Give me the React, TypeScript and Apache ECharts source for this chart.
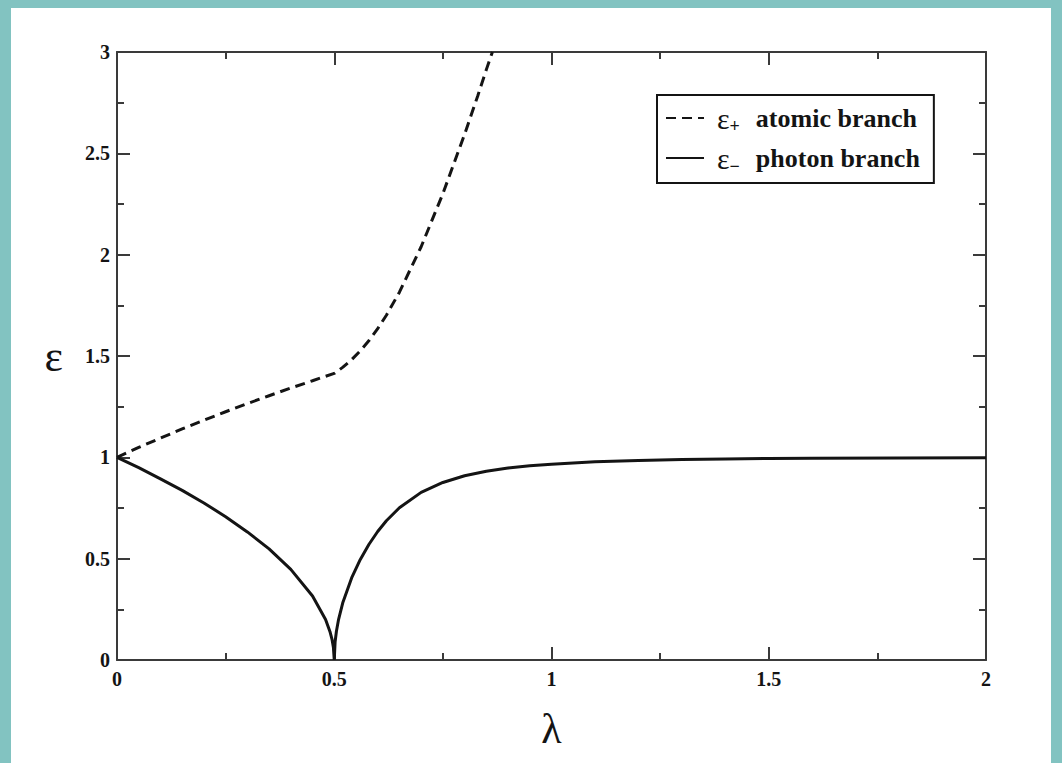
import React, { useEffect, useRef } from "react";
import * as echarts from "echarts";

// Coupling strength λ and the two excitation energies ε± (dimensionless)
const lambdaPlus = [
  0, 0.05, 0.1, 0.15, 0.2, 0.25, 0.3, 0.35, 0.4, 0.45, 0.48, 0.5,
  0.51, 0.52, 0.54, 0.56, 0.58, 0.6, 0.62, 0.65, 0.7, 0.75, 0.8, 0.83, 0.85, 0.864,
];
const epsPlus = [
  1.0, 1.049, 1.095, 1.14, 1.183, 1.225, 1.265, 1.304, 1.342, 1.378, 1.4, 1.414,
  1.429, 1.445, 1.482, 1.526, 1.576, 1.635, 1.701, 1.815, 2.039, 2.301, 2.594, 2.782, 2.913, 3.0,
];

const lambdaMinus = [
  0, 0.05, 0.1, 0.15, 0.2, 0.25, 0.3, 0.35, 0.4, 0.45, 0.48, 0.49, 0.495, 0.498, 0.5,
  0.502, 0.505, 0.51, 0.52, 0.54, 0.56, 0.58, 0.6, 0.62, 0.65, 0.7, 0.75, 0.8, 0.85,
  0.9, 0.95, 1.0, 1.1, 1.2, 1.3, 1.4, 1.5, 1.6, 1.8, 2.0,
];
const epsMinus = [
  1.0, 0.949, 0.894, 0.837, 0.775, 0.707, 0.632, 0.548, 0.447, 0.316, 0.2, 0.141, 0.1, 0.063, 0,
  0.09, 0.142, 0.201, 0.285, 0.405, 0.496, 0.571, 0.634, 0.687, 0.751, 0.827, 0.876, 0.909, 0.931,
  0.947, 0.958, 0.966, 0.978, 0.984, 0.989, 0.992, 0.994, 0.995, 0.997, 0.998,
];

const xTicks = { min: 0, max: 2, interval: 0.5 };
const yTicks = { min: 0, max: 3, interval: 0.5 };

const seriesNames = ["atomic", "photon"];
const legendLabels: Record<string, string> = {
  atomic: "{e|ε}{sub|+}{t|atomic branch}",
  photon: "{e|ε}{sub|−}{t|photon branch}",
};

const INK = "#141414";
const FONT = "'Liberation Serif', 'Times New Roman', serif";

function pairs(xs: number[], ys: number[]) {
  return xs.map((x, i) => [x, ys[i]]);
}

export default function App() {
  const ref = useRef<HTMLDivElement>(null);

  useEffect(() => {
    if (!ref.current) return;
    const chart = echarts.init(ref.current, undefined, { renderer: "svg" });

    const axisCommon = {
      axisLine: { show: true, onZero: false, lineStyle: { color: "#3a3a3a", width: 2 } },
      axisTick: { show: true, inside: true, length: 13, lineStyle: { color: "#3a3a3a", width: 2 } },
      minorTick: { show: true, splitNumber: 2, length: 7, lineStyle: { color: "#3a3a3a", width: 2 } },
      splitLine: { show: false },
    };
    const labelStyle = { color: INK, fontFamily: FONT, fontSize: 20, fontWeight: "bold" as const };

    chart.setOption({
      animation: false,
      backgroundColor: "transparent",
      grid: { left: 117, top: 52, right: 76, bottom: 103, containLabel: false },
      xAxis: [
        {
          type: "value",
          ...xTicks,
          position: "bottom",
          name: "λ",
          nameLocation: "middle",
          nameGap: 48,
          nameTextStyle: { color: INK, fontFamily: FONT, fontSize: 42 },
          axisLabel: { ...labelStyle, margin: 9 },
          ...axisCommon,
        },
        {
          type: "value",
          ...xTicks,
          position: "top",
          axisLabel: { show: false },
          ...axisCommon,
        },
      ],
      yAxis: [
        {
          type: "value",
          ...yTicks,
          position: "left",
          name: "ε",
          nameLocation: "middle",
          nameRotate: 0,
          nameGap: 54,
          nameTextStyle: { color: INK, fontFamily: FONT, fontSize: 44 },
          axisLabel: { ...labelStyle, margin: 7 },
          ...axisCommon,
        },
        {
          type: "value",
          ...yTicks,
          position: "right",
          axisLabel: { show: false },
          ...axisCommon,
        },
      ],
      legend: {
        data: seriesNames,
        orient: "vertical",
        left: 657,
        top: 95,
        borderColor: INK,
        borderWidth: 2,
        borderRadius: 0,
        padding: [8, 14, 8, 8],
        itemGap: 8,
        itemWidth: 38,
        itemHeight: 14,
        itemStyle: { opacity: 0 },
        formatter: (name: string) => legendLabels[name],
        textStyle: {
          color: INK,
          fontFamily: FONT,
          rich: {
            e: { fontFamily: FONT, fontSize: 30, lineHeight: 34, verticalAlign: "middle", padding: [0, 0, 0, 8], color: INK },
            sub: { fontFamily: FONT, fontSize: 18, lineHeight: 18, verticalAlign: "bottom", color: INK, fontWeight: "bold" },
            t: { fontFamily: FONT, fontSize: 26, fontWeight: "bold", lineHeight: 34, verticalAlign: "middle", padding: [0, 0, 0, 16], color: INK },
          },
        },
      },
      series: [
        {
          name: "atomic",
          type: "line",
          data: pairs(lambdaPlus, epsPlus),
          showSymbol: false,
          symbol: "none",
          smooth: false,
          clip: true,
          lineStyle: { color: INK, width: 3, type: [10, 6] },
          itemStyle: { color: INK },
        },
        {
          name: "photon",
          type: "line",
          data: pairs(lambdaMinus, epsMinus),
          showSymbol: false,
          symbol: "none",
          smooth: false,
          clip: true,
          lineStyle: { color: INK, width: 3 },
          itemStyle: { color: INK },
        },
      ],
    });

    return () => chart.dispose();
  }, []);

  return (
    <div style={{ position: "fixed", left: 0, top: 0, width: 1062, height: 763, background: "#82c3c1" }}>
      <div style={{ position: "absolute", left: 11, top: 8, width: 1040, height: 755, background: "#ffffff" }} />
      <div ref={ref} style={{ position: "absolute", left: 0, top: 0, width: 1062, height: 763 }} />
    </div>
  );
}
